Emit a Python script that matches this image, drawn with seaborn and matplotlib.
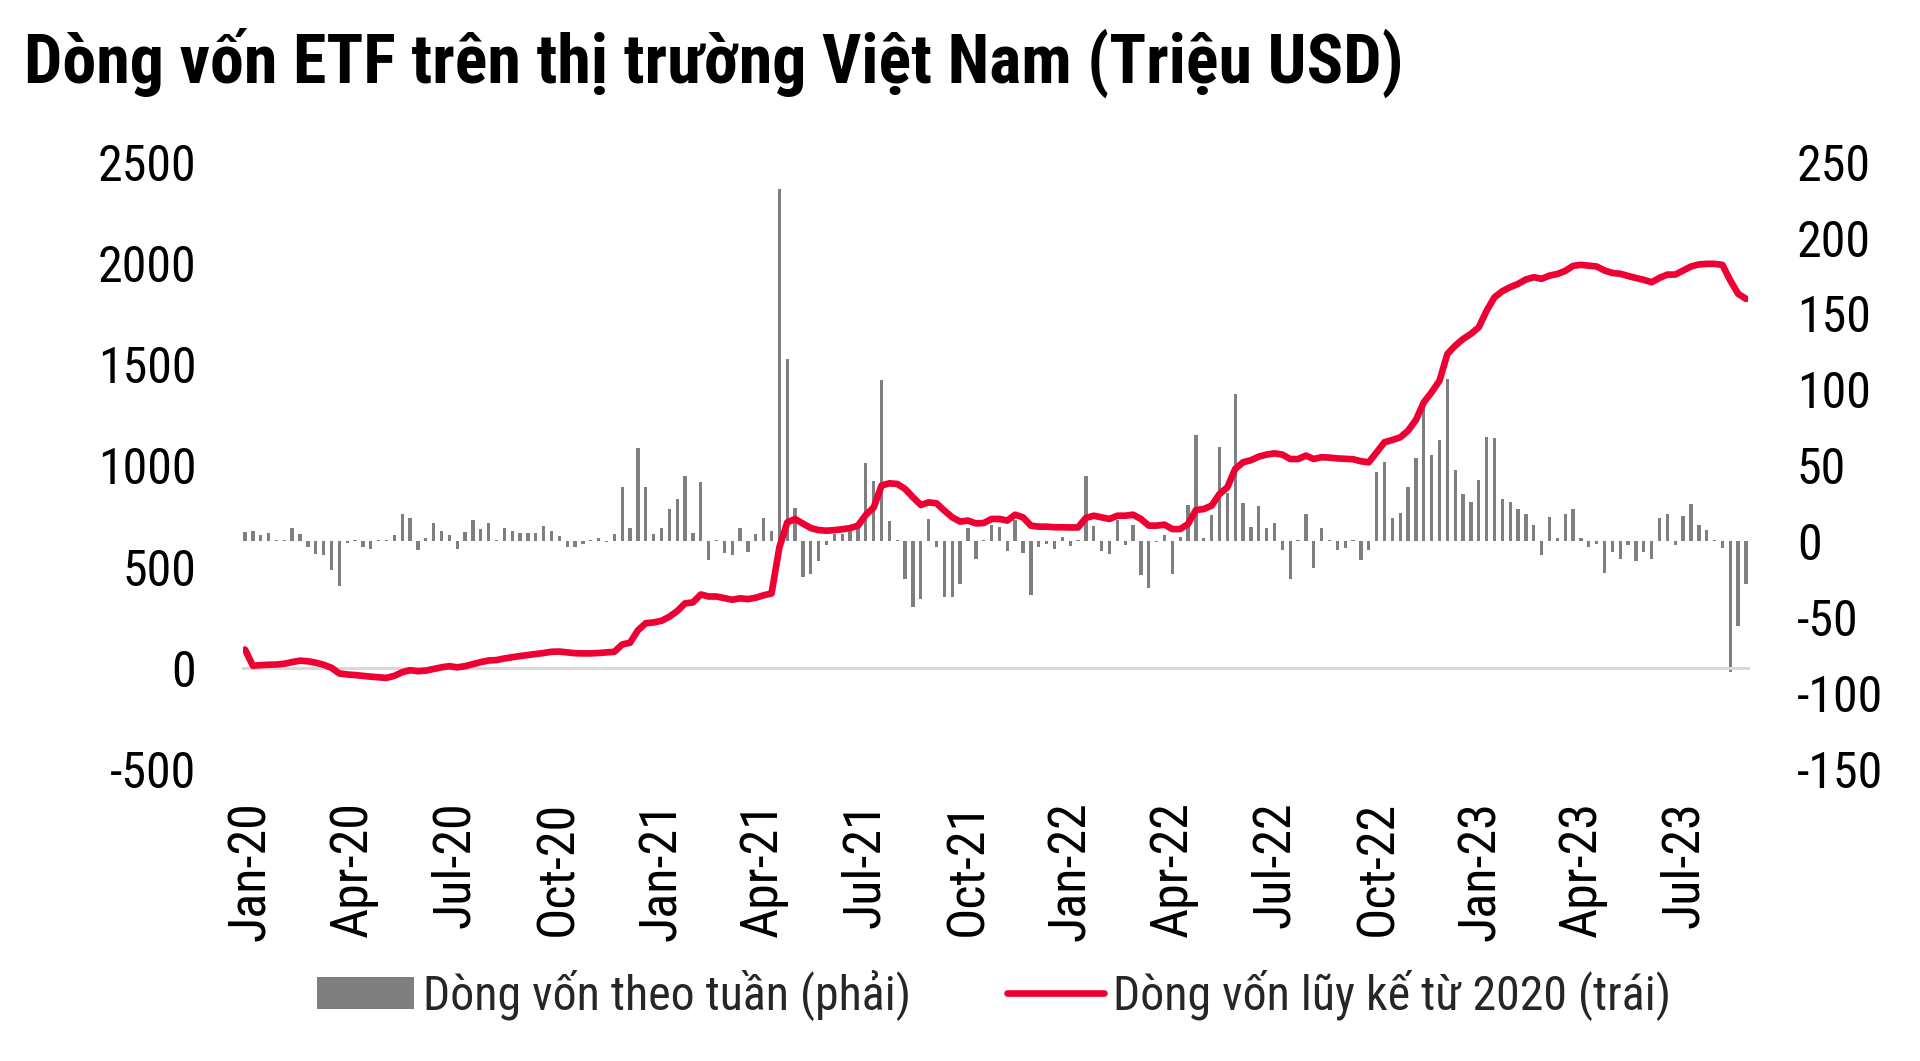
import numpy as np
import pandas as pd
import matplotlib
matplotlib.use("Agg")
import matplotlib.pyplot as plt
import matplotlib.dates as mdates
import matplotlib.transforms as mtransforms
from matplotlib.patches import Patch
from matplotlib.lines import Line2D
import seaborn as sns
from matplotlib import font_manager

# ---------------- data ----------------
start_date = "2020-01-03"
n_weeks = 192

weekly_flow = [  # right axis, million USD
    6, 7, 4.4, 5.5, 1, 1, 8.4, 5, -4, -8.6, -9, -18.7, -29.5, -1, 1, -4,
    -5, 1, 1, 4, 18, 15, -5.5, 2, 12, 6.6, 4.4, -5, 6, 14, 8, 12,
    1, 8.4, 6.6, 5.5, 5.5, 5.5, 10, 7, 3.3, -4, -4, -2, 1, 2.4, -0.5, 5,
    36, 9, 61.5, 36, 5, 8.4, 21, 28, 43, 5.7, 39, -12.5, 1, -8, -8.8, 8.4,
    -7, 5, 15, 7, 232, 120, 22, -23.5, -21.8, -13, -2.6, 5, 5, 7, 10.5, 51.6,
    39.5, 106, 13, 1, -25, -43, -38, 14.5, -4, -37, -37, -28, 8.4, -12, 0.7, 11,
    9.5, -6.4, 14, -7.7, -35.6, -3.7, -1.5, -4.8, 3, -3, 1, 43, 10, -6.4, -8.6, 14,
    -2.6, 10.5, -22.4, -31, -0.4, 4, -21.3, 3, 24, 70, 1.8, 17, 62, 32, 97, 25,
    9.5, 23, 8.8, 12, -6, -24.6, 0.5, 18, -17.4, 9, 0.5, -6, -4.4, 0.7, -12.5, -5.5,
    45.7, 52, 15, 18.7, 35.8, 54.5, 90.8, 56.7, 66.6, 107, 47, 31.4, 26, 40, 68.8, 67.7,
    28, 26, 21, 17.6, 11, -9, 16, 1.8, 18, 21.5, 2, -4, -1.5, -20.7, -7, -12,
    -2.2, -13, -7, -11.4, 15.4, 17.8, -2.6, 16.7, 24.4, 11, 7.7, 1, -4.4, -86, -56, -28,
]

cumulative_flow = [  # left axis, million USD
    90, 10, 13, 15, 16, 20, 28, 35, 32, 25, 15, 0, -28, -33, -36, -40,
    -44, -47, -50, -40, -22, -12, -17, -14, -6, 2, 8, 2, 8, 18, 28, 36,
    38, 46, 52, 58, 63, 68, 73, 79, 80, 76, 72, 71, 71, 73, 76, 79,
    115, 124, 185, 220, 224, 232, 252, 280, 318, 323, 362, 352, 352, 344, 336, 343,
    339, 346, 358, 367, 595, 718, 735, 712, 690, 680, 677, 680, 684, 690, 702, 755,
    792, 900, 911, 908, 883, 842, 804, 817, 812, 776, 743, 722, 727, 713, 715, 735,
    735, 727, 756, 743, 702, 697, 697, 694, 694, 693, 693, 740, 751, 743, 735, 751,
    751, 756, 735, 702, 702, 707, 685, 685, 710, 779, 784, 801, 858, 891, 982, 1015,
    1025, 1043, 1053, 1059, 1053, 1031, 1031, 1048, 1031, 1040, 1038, 1034, 1032, 1030, 1020, 1015,
    1064, 1114, 1125, 1138, 1171, 1224, 1311, 1361, 1418, 1550, 1591, 1624, 1649, 1682, 1764, 1830,
    1860, 1880, 1896, 1918, 1929, 1921, 1937, 1945, 1960, 1985, 1990, 1986, 1982, 1962, 1950, 1946,
    1935, 1925, 1916, 1904, 1926, 1942, 1942, 1962, 1982, 1992, 1995, 1995, 1990, 1913, 1847, 1822,
]

left_ticks = [-500, 0, 500, 1000, 1500, 2000, 2500]
right_ticks = [-150, -100, -50, 0, 50, 100, 150, 200, 250]

title = "Dòng vốn ETF trên thị trường Việt Nam (Triệu USD)"
label_bar = "Dòng vốn theo tuần (phải)"
label_line = "Dòng vốn lũy kế từ 2020 (trái)"

# ---------------- fonts ----------------
sns.set_theme(style="white")
ttf = font_manager.fontManager.ttflist
names = {f.name for f in ttf}


def pick_condensed():
    for nm in ["Liberation Sans Narrow", "Arial Narrow", "Roboto Condensed",
               "Open Sans Condensed", "Noto Sans Condensed", "DejaVu Sans Condensed"]:
        if nm in names:
            return nm, "normal"
    cond = {"condensed", "semi-condensed", "extra-condensed", "ultra-condensed"}
    for fam in ["Noto Sans", "Roboto", "Open Sans", "DejaVu Sans", "Liberation Sans"]:
        for f in ttf:
            st = f.stretch
            is_cond = (st in cond) or (isinstance(st, (int, float)) and st < 100)
            if f.name == fam and is_cond:
                return fam, "condensed"
    return "Liberation Sans", "normal"


COND, STRETCH = pick_condensed()
FAM = [COND, "Liberation Sans", "DejaVu Sans"]
plt.rcParams["font.family"] = FAM
plt.rcParams["font.stretch"] = STRETCH

BAR_C = "#7F7F7F"
LINE_C = "#EE0033"
AXIS_C = "#D9D9D9"

dates = pd.date_range(start_date, periods=n_weeks, freq="7D")
xnum = mdates.date2num(dates)
df = pd.DataFrame({"x": xnum, "weekly": weekly_flow, "cum": cumulative_flow})

W, H = 1920, 1061
fig = plt.figure(figsize=(W / 100, H / 100), dpi=100)
x0, x1 = 242.75, 1748.25
ytop, ybot = 161.6, 769.0
ax = fig.add_axes([x0 / W, 1 - ybot / H, (x1 - x0) / W, (ybot - ytop) / H])
ax2 = ax.twinx()

# bars on right axis
sns.barplot(data=df, x="x", y="weekly", ax=ax2, native_scale=True, width=0.42,
            color=BAR_C, saturation=1, linewidth=0, errorbar=None)
# cumulative line on left axis
sns.lineplot(data=df, x="x", y="cum", ax=ax, color=LINE_C, linewidth=4.8,
             zorder=4, solid_joinstyle="round", solid_capstyle="round")

ax.set_zorder(ax2.get_zorder() + 1)
ax.patch.set_visible(False)

xmin = xnum[0] - 2
xmax = xnum[-1] + 2
ax.set_xlim(xmin, xmax)
ax2.set_xlim(xmin, xmax)
ax.set_ylim(-500, 2500)
ax2.set_ylim(-150, 250)

for a in (ax, ax2):
    for s in a.spines.values():
        s.set_visible(False)
    a.set_xlabel("")
    a.set_ylabel("")

ax.spines["bottom"].set_visible(True)
ax.spines["bottom"].set_position(("data", 0))
ax.spines["bottom"].set_color(AXIS_C)
ax.spines["bottom"].set_linewidth(2.2)

ax.xaxis.set_major_locator(mdates.MonthLocator(bymonth=[1, 4, 7, 10]))
ax.xaxis.set_major_formatter(mdates.DateFormatter("%b-%y"))
ax.tick_params(axis="x", direction="out", length=13, width=2.4, color=AXIS_C,
               pad=83, labelsize=37.5, labelrotation=90, labelcolor="black")
ax2.tick_params(axis="x", bottom=False, labelbottom=False)

ax.set_yticks(left_ticks)
ax.set_yticklabels([str(v) for v in left_ticks])
ax.tick_params(axis="y", left=False, right=False, labelleft=True, labelright=False,
               pad=27.5, labelsize=36, labelcolor="black")
ax2.set_yticks(right_ticks)
ax2.set_yticklabels([str(v) for v in right_ticks])
ax2.tick_params(axis="y", left=False, right=False, labelleft=False, labelright=True,
                pad=29, labelsize=36, labelcolor="black")

shift = mtransforms.ScaledTranslation(8 / 100, 0, fig.dpi_scale_trans)
for lab in ax.get_xticklabels():
    lab.set_verticalalignment("top")
    lab.set_horizontalalignment("center")
    lab.set_transform(lab.get_transform() + shift)

fig.text(24 / W, 1 - 28 / H, title, ha="left", va="top", fontsize=49,
         fontweight="bold", color="black", family=FAM, fontstretch=STRETCH)

handles = [Patch(facecolor=BAR_C, edgecolor="none", label=label_bar),
           Line2D([0], [0], color=LINE_C, lw=4.8, label=label_line)]
fig.legend(handles=handles, loc="center", bbox_to_anchor=(994 / W, 1 - 995 / H),
           ncol=2, frameon=False, fontsize=34.5, handlelength=2.02, handleheight=0.65,
           handletextpad=0.2, columnspacing=2.0)

fig.savefig("out.png", dpi=100)
